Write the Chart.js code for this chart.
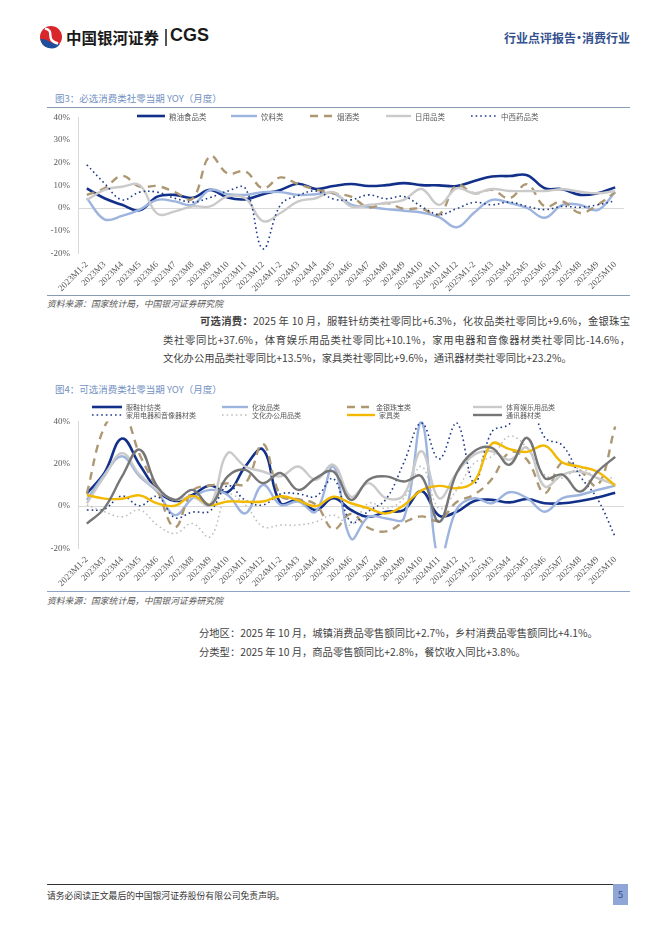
<!DOCTYPE html>
<html lang="zh-CN">
<head>
<meta charset="utf-8">
<script src="https://cdn.jsdelivr.net/npm/chart.js@4.4.1/dist/chart.umd.min.js"></script>
<style>
  html, body { margin: 0; padding: 0; background: #fff; }
  body { width: 662px; height: 936px; position: relative; overflow: hidden;
         font-family: "Noto Sans CJK SC", sans-serif; color: #3f3f3f; }
  .abs { position: absolute; white-space: nowrap; }
  .rule { position: absolute; height: 0; }
  .title { font-size: 9.5px; color: #7391c2; }
  .src { font-size: 8.8px; font-style: italic; color: #555; }
  .para { position: absolute; font-size: 10.3px; line-height: 14px; color: #3f3f3f; }
  .just { text-align: justify; text-align-last: justify; }
  .leg { position: absolute; display: flex; align-items: center; white-space: nowrap; color: #595959; }
  .leg svg { display: block; margin-right: 4px; }
  canvas { position: absolute; }
</style>
</head>
<body>

<!-- header -->
<svg class="abs" style="left:38px;top:25px" width="26" height="24" viewBox="0 0 24 24">
  <circle cx="12" cy="12" r="11" fill="#d9262b"/>
  <path d="M1.3 14 A11 11 0 0 0 21 19 C 14 21, 9 13, 1.3 14 Z" fill="#1d4f9c"/>
  <path d="M6 3.5 C 17 6, 5 15, 19 18.5" stroke="#fff" stroke-width="2.4" fill="none"/>
</svg>
<div class="abs" style="left:66px;top:26px;font-size:15.5px;font-weight:bold;color:#1a1a1a">中国银河证券</div>
<div class="abs" style="left:165px;top:29px;width:1.5px;height:17px;background:#555"></div>
<div class="abs" style="left:170px;top:25px;font-family:'Liberation Sans',Arial,sans-serif;font-size:18px;font-weight:bold;color:#1a1a1a">CGS</div>
<div class="abs" style="right:32px;top:29px;font-size:12px;font-weight:bold;color:#34508f">行业点评报告<span style="margin:0 -3px">·</span>消费行业</div>

<!-- figure 3 -->
<div class="abs title" style="left:55px;top:91px">图3：必选消费类社零当期 YOY（月度）</div>
<div class="rule" style="left:47px;top:107px;width:583px;border-top:1px solid #8a9bb8"></div>
<canvas id="c1" width="612" height="190" style="left:20px;top:104px;width:612px;height:190px"></canvas>
<div id="leg1"></div>
<div class="rule" style="left:47px;top:295px;width:583px;border-top:1px solid #8a9bb8"></div>
<div class="abs src" style="left:47px;top:297px">资料来源：国家统计局，中国银河证券研究院</div>

<div class="para just" style="left:200px;top:314px;width:430px"><b>可选消费：</b>2025 年 10 月，服鞋针纺类社零同比+6.3%，化妆品类社零同比+9.6%，金银珠宝</div>
<div class="para just" style="left:163px;top:333px;width:467px">类社零同比+37.6%，体育娱乐用品类社零同比+10.1%，家用电器和音像器材类社零同比-14.6%，</div>
<div class="para" style="left:163px;top:351px;white-space:nowrap">文化办公用品类社零同比+13.5%，家具类社零同比+9.6%，通讯器材类社零同比+23.2%。</div>

<!-- figure 4 -->
<div class="abs title" style="left:55px;top:382px">图4：可选消费类社零当期 YOY（月度）</div>
<canvas id="c2" width="612" height="183" style="left:20px;top:408px;width:612px;height:183px"></canvas>
<div id="leg2"></div>
<div class="rule" style="left:47px;top:591px;width:583px;border-top:1px solid #8fa3c8"></div>
<div class="abs src" style="left:47px;top:594px">资料来源：国家统计局，中国银河证券研究院</div>

<div class="para" style="left:199px;top:626px;white-space:nowrap">分地区：2025 年 10 月，城镇消费品零售额同比+2.7%，乡村消费品零售额同比+4.1%。</div>
<div class="para" style="left:199px;top:645px;white-space:nowrap">分类型：2025 年 10 月，商品零售额同比+2.8%，餐饮收入同比+3.8%。</div>

<!-- footer -->
<div class="rule" style="left:47px;top:884px;width:566px;border-top:1px solid #333"></div>
<div class="abs" style="left:47px;top:889px;font-size:8.8px;color:#333">请务必阅读正文最后的中国银河证券股份有限公司免责声明。</div>
<div class="abs" style="left:613px;top:884px;width:15px;height:21px;background:#8fa6d6;color:#2e4a8a;font-size:9px;text-align:center;line-height:21px">5</div>

<script>
const months = [
  '2023M1-2', '2023M3', '2023M4', '2023M5', '2023M6', '2023M7', '2023M8', '2023M9', '2023M10', '2023M11', '2023M12',
  '2024M1-2', '2024M3', '2024M4', '2024M5', '2024M6', '2024M7', '2024M8', '2024M9', '2024M10', '2024M11', '2024M12',
  '2025M1-2', '2025M3', '2025M4', '2025M5', '2025M6', '2025M7', '2025M8', '2025M9', '2025M10'
];

// 图3 必选消费
const grainOil  = [8.7, 4.3, 1.4, -1.0, 5.0, 5.8, 4.5, 8.0, 4.6, 3.8, 6.1, 8.0, 10.7, 8.4, 9.7, 10.6, 9.7, 10.1, 11.0, 10.1, 10.0, 9.7, 11.9, 13.9, 14.1, 14.5, 8.7, 8.3, 5.8, 6.5, 9.1];
const beverage  = [4.3, -5.0, -3.5, -0.7, 3.6, 2.9, 1.4, 8.0, 6.1, 5.8, 7.0, 7.0, 5.8, 6.1, 6.5, 1.5, 0.5, -0.5, -1.2, -2.0, -4.0, -8.5, -2.0, 3.6, 2.2, 0.0, -4.3, 1.4, 1.4, -0.9, 7.0];
const tobacco   = [5.8, 8.7, 14.2, 9.4, 9.7, 7.0, 4.1, 22.9, 15.2, 16.2, 8.7, 13.5, 10.5, 8.2, 6.5, 5.0, 0.3, 2.2, -0.4, -0.3, -2.9, 10.1, 6.5, 8.0, 4.3, 10.5, 0.7, 2.9, -2.2, 1.4, 7.0];
const dailyUse  = [3.6, 8.0, 9.4, 10.1, -2.5, -1.5, 0.7, 0.7, 5.1, 4.3, -5.8, -2.2, 2.9, 4.3, 7.0, 0.7, 1.4, 2.2, 3.6, 8.4, 1.4, 8.7, 6.5, 8.4, 7.5, 7.5, 7.5, 8.3, 7.2, 6.5, 7.5];
const medicine  = [19.1, 10.9, 3.6, 7.0, 7.0, 4.3, 2.6, 4.6, 7.5, 8.7, -18.0, 1.4, 5.5, 7.5, 4.0, 3.6, 5.8, 4.1, 5.1, 0.7, -2.9, -0.3, 2.5, 1.4, 2.6, 0.7, -0.7, 0.7, 0.3, 1.4, 3.2];
const names1 = ['粮油食品类', '饮料类', '烟酒类', '日用品类', '中西药品类'];

// 图4 可选消费
const clothing  = [6.0, 15.6, 31.9, 19.5, 7.6, 2.4, 5.2, 9.7, 6.5, 18.7, 26.7, 1.3, 2.9, -1.9, 3.7, -1.9, -5.1, -2.7, -1.9, 7.1, -4.5, -2.7, 2.4, 2.9, 1.7, 3.3, 1.3, 1.3, 2.4, 4.0, 6.3];
const cosmetics = [2.9, 14.8, 23.5, 14.0, 6.8, -4.3, 3.7, 7.6, 5.2, -3.5, 10.0, 0.5, 2.1, -2.7, 18.7, -15.4, -5.1, -5.9, -5.9, 40.1, -26.4, -1.6, 3.7, 1.3, 6.5, 3.7, -2.7, 3.7, 5.2, 7.6, 9.6];
const jewelry   = [5.9, 37.4, 44.7, 24.4, 7.8, -10.0, 7.2, 9.7, 10.7, 10.7, 29.4, 5.0, 3.2, 0.7, -11.0, -3.7, -10.4, -12.0, -7.8, -4.9, -6.9, 1.9, 5.4, 12.8, 25.3, 21.8, 6.1, 20.8, 16.8, 9.7, 37.6];
const sports    = [1.3, 14.0, 25.0, 14.8, 7.6, 2.9, 4.4, 0.5, 25.0, 18.7, 16.3, 14.0, 18.7, 12.4, 19.5, 4.4, 10.8, 3.7, 5.2, 25.9, 3.7, 15.6, 24.3, 25.9, 21.9, 27.5, 9.2, 14.8, 16.3, 13.2, 10.1];
const appliance = [-1.9, -1.4, 4.7, 0.1, 4.5, -5.5, -2.9, -2.3, 9.6, 2.7, 0.5, 5.7, 5.8, 4.5, 12.9, -7.6, -2.4, 3.4, 20.5, 39.2, 22.2, 39.3, 10.9, 35.1, 38.8, 53.0, 32.4, 28.7, 14.3, 3.3, -14.6];
const office    = [0.5, -2.7, -5.1, -1.9, -9.0, -13.0, -8.3, -14.6, 5.2, 0.5, -9.8, -9.0, -9.0, -7.5, -4.3, -9.0, 1.3, -1.1, 3.7, 18.7, -1.1, 7.6, 20.3, 23.5, 33.0, 27.5, 14.8, 13.2, 17.9, 13.2, 13.5];
const furniture = [5.2, 3.5, 3.4, 5.0, 1.2, 0.1, 4.8, 0.5, 2.1, 2.0, 2.1, 4.6, 2.7, -0.1, 4.4, 1.3, -1.1, -3.5, 0.4, 7.4, 9.5, 8.4, 11.7, 29.5, 26.9, 25.6, 28.5, 20.6, 18.6, 16.2, 9.6];
const telecom   = [-8.3, -1.0, 14.0, 26.7, 9.2, 2.9, 7.6, 0.5, 14.0, 17.1, 10.8, 15.6, 7.6, 13.2, 16.3, 2.9, 12.4, 14.0, 11.6, 14.0, -7.5, 15.6, 25.9, 27.5, 19.5, 32.2, 13.2, 14.8, 6.8, 16.3, 23.2];
const names2 = ['服鞋针纺类', '化妆品类', '金银珠宝类', '体育娱乐用品类', '家用电器和音像器材类', '文化办公用品类', '家具类', '通讯器材类'];

// line looks
const NAVY = '#12308a', LBLUE = '#9db4de', TAN = '#ad9873', LGRAY = '#cacaca';
const solid = (c, w) => ({ color: c, width: w, dash: [] });
const styles1 = [solid(NAVY, 2.6), solid(LBLUE, 2.4), { color: TAN, width: 2.4, dash: [8, 6] }, solid(LGRAY, 2.4), { color: '#1f3a8a', width: 1.6, dash: [1.6, 3] }];
const styles2 = [solid(NAVY, 2.6), solid(LBLUE, 2.4), { color: TAN, width: 2.4, dash: [8, 6] }, solid(LGRAY, 2.4),
  { color: '#1f3a8a', width: 1.6, dash: [1.6, 3] }, { color: '#bdbdbd', width: 1.5, dash: [1.6, 3] }, solid('#f2b900', 2.4), solid('#767676', 2.4)];

function makeDatasets(names, values, styles) {
  return names.map((n, i) => ({
    label: n,
    data: values[i],
    borderColor: styles[i].color,
    borderWidth: styles[i].width,
    borderDash: styles[i].dash,
    pointRadius: 0,
    tension: 0.4,
    fill: false,
    order: names.length - i
  }));
}

function makeChart(id, datasets, min, max, step, axisH) {
  const tickFont = { family: "'Liberation Serif', 'Times New Roman', serif", size: 9 };
  return new Chart(document.getElementById(id), {
    type: 'line',
    data: { labels: months, datasets },
    options: {
      responsive: false,
      animation: false,
      layout: { padding: { top: 0, right: 8, bottom: 0, left: 0 } },
      plugins: { legend: { display: false }, tooltip: { enabled: false } },
      scales: {
        x: {
          offset: true,
          grid: { display: false, drawTicks: false },
          border: { display: false },
          ticks: { autoSkip: false, maxRotation: 45, minRotation: 45, padding: 6, color: '#595959', font: tickFont },
          afterFit: (s) => { s.height = axisH; }
        },
        y: {
          min, max,
          grid: { drawTicks: false, color: (c) => (c.tick && c.tick.value === 0 ? '#d9d9d9' : 'rgba(0,0,0,0)') },
          border: { display: true, color: '#d9d9d9' },
          ticks: { stepSize: step, padding: 8, color: '#595959', font: tickFont, callback: (v) => v + '%' },
          afterFit: (s) => { s.width = 58; }
        }
      }
    }
  });
}

function legendSample(st, w) {
  const dash = st.dash.length ? `stroke-dasharray="${st.dash.join(' ')}"` : '';
  return `<svg width="${w}" height="6"><line x1="0" y1="3" x2="${w}" y2="3" stroke="${st.color}" stroke-width="${st.width}" ${dash}/></svg>`;
}

function buildLegend(el, names, styles, slots, fontSize) {
  el.innerHTML = names.map((n, i) => {
    const s = slots[i];
    return `<div class="leg" style="left:${s.x}px;top:${s.y - 5}px;height:10px;font-size:${fontSize}px">${legendSample(styles[i], s.w)}<span>${n}</span></div>`;
  }).join('');
}

makeChart('c1', makeDatasets(names1, [grainOil, beverage, tobacco, dailyUse, medicine], styles1), -20, 40, 10, 40.7);
makeChart('c2', makeDatasets(names2, [clothing, cosmetics, jewelry, sports, appliance, office, furniture, telecom], styles2), -20, 40, 20, 42.7);

buildLegend(document.getElementById('leg1'), names1, styles1, [
  { x: 137, y: 116, w: 28 }, { x: 231, y: 116, w: 26 }, { x: 310, y: 116, w: 23 }, { x: 386, y: 116, w: 25 }, { x: 471, y: 116, w: 26 }
], 7.5);
buildLegend(document.getElementById('leg2'), names2, styles2, [
  { x: 92, y: 406.5, w: 30 }, { x: 222, y: 406.5, w: 26 }, { x: 347, y: 406.5, w: 25 }, { x: 473, y: 406.5, w: 29 },
  { x: 92, y: 415, w: 30 }, { x: 222, y: 415, w: 26 }, { x: 347, y: 415, w: 28 }, { x: 473, y: 415, w: 29 }
], 7);
</script>
</body>
</html>
